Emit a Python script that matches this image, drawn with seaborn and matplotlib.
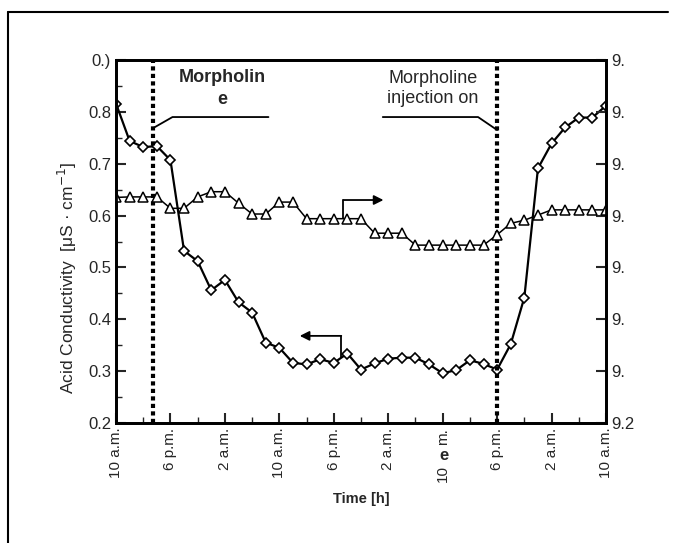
import numpy as np
import matplotlib
matplotlib.use("Agg")
import matplotlib.pyplot as plt
import seaborn as sns
from matplotlib.lines import Line2D

# time in hours after 10 a.m. on day 1
hours = list(range(0, 74, 2))
# acid conductivity (left axis), diamonds
cond = [0.816, 0.744, 0.732, 0.734, 0.707, 0.532, 0.512, 0.456, 0.476, 0.433,
        0.413, 0.355, 0.345, 0.316, 0.313, 0.323, 0.316, 0.334, 0.303, 0.315,
        0.324, 0.326, 0.326, 0.313, 0.296, 0.302, 0.321, 0.314, 0.303, 0.352,
        0.442, 0.691, 0.739, 0.770, 0.789, 0.789, 0.812]
# pH (right axis), triangles
ph = [9.635, 9.636, 9.636, 9.636, 9.614, 9.614, 9.636, 9.646, 9.646, 9.624,
      9.603, 9.603, 9.626, 9.626, 9.594, 9.594, 9.594, 9.594, 9.594, 9.566,
      9.566, 9.566, 9.543, 9.543, 9.543, 9.543, 9.543, 9.543, 9.563, 9.585,
      9.591, 9.601, 9.611, 9.611, 9.611, 9.611, 9.611]

xticks = list(range(0, 80, 8))
# the 7th label is damaged in the scan; it is drawn in pieces below
xlabels = ["10 a.m.", "6 p.m.", "2 a.m.", "10 a.m.", "6 p.m.", "2 a.m.",
           "", "6 p.m.", "2 a.m.", "10 a.m."]
left_ticks = [0.2, 0.3, 0.4, 0.5, 0.6, 0.7, 0.8, 0.9]
left_labels = ["0.2", "0.3", "0.4", "0.5", "0.6", "0.7", "0.8", "0.)"]
right_ticks = [9.2, 9.3, 9.4, 9.5, 9.6, 9.7, 9.8, 9.9]
right_labels = ["9.2", "9.", "9.", "9.", "9.", "9.", "9.", "9."]
events = [5.5, 56]

sns.set_style("ticks")
plt.rcParams["font.family"] = ["Liberation Sans", "DejaVu Sans"]

fig = plt.figure(figsize=(6.77, 5.43), dpi=100)
ax = fig.add_axes([116 / 677, 1 - 423 / 543, 490 / 677, 363 / 543])
ax2 = ax.twinx()

sns.lineplot(x=hours, y=cond, ax=ax, color="black", lw=1.6, marker="D",
             markersize=5.5, markerfacecolor="white", markeredgecolor="black",
             markeredgewidth=1.2)
sns.lineplot(x=hours, y=ph, ax=ax2, color="black", lw=1.1, marker="^",
             markersize=6.5, markerfacecolor="white", markeredgecolor="black",
             markeredgewidth=1.1)

ax.set_xlim(0, 72)
ax.set_ylim(0.2, 0.9)
ax2.set_ylim(9.2, 9.9)

for ev in events:
    ax.axvline(ev, color="black", lw=3, ls=(0, (1, 0.8)))

ax.set_xticks(xticks)
ax.set_xticklabels(xlabels, rotation=90, fontsize=11)
ax.set_xticks(list(range(4, 72, 8)), minor=True)
ax.set_yticks(left_ticks)
ax.set_yticklabels(left_labels, fontsize=12)
ax.set_yticks(list(np.arange(0.25, 0.9, 0.1)), minor=True)
ax2.set_yticks(right_ticks)
ax2.set_yticklabels(right_labels, fontsize=12)

ax.tick_params(axis="both", which="major", direction="in", length=7, width=1.5)
ax.tick_params(axis="both", which="minor", direction="in", length=4, width=1)
ax2.tick_params(axis="y", direction="in", length=7, width=1.5)
for a in (ax, ax2):
    for s in a.spines.values():
        s.set_linewidth(2)
        s.set_color("black")

ax.set_ylabel("Acid Conductivity  [μS · cm$^{-1}$]", fontsize=12.5)
ax.yaxis.set_label_coords(-0.075, 0.40)
ax.set_xlabel("Time [h]", fontsize=10.5, fontweight="bold", labelpad=10)
ax2.set_ylabel("")

# annotations
ax.text(15.6, 0.845, "Morpholin\ne", ha="center", va="center", fontsize=13,
        fontweight="bold", linespacing=1.35)
ax.plot([5.5, 8.3, 22.4], [0.769, 0.790, 0.790], color="black", lw=1.3)
ax.text(46.6, 0.845, "Morpholine\ninjection on", ha="center", va="center",
        fontsize=13, linespacing=1.25)
ax.plot([39.2, 53.2, 56], [0.790, 0.790, 0.765], color="black", lw=1.3)

# series arrows
ax.plot([33.1, 33.1], [0.327, 0.368], color="black", lw=1.3)
ax.annotate("", xy=(27.0, 0.368), xytext=(33.1, 0.368),
            arrowprops=dict(arrowstyle="-|>", color="black", lw=1.3,
                            mutation_scale=14, shrinkA=0, shrinkB=0))
ax.plot([33.4, 33.4], [0.595, 0.630], color="black", lw=1.3)
ax.annotate("", xy=(39.3, 0.630), xytext=(33.4, 0.630),
            arrowprops=dict(arrowstyle="-|>", color="black", lw=1.3,
                            mutation_scale=14, shrinkA=0, shrinkB=0))

# damaged tick label at 48 h: "10" ... bold "e" ... "m."
x48 = (116 + 48 / 72 * 490) / 677
fig.text(x48, 1 - 482 / 543, "10", rotation=90, ha="center", va="bottom",
         fontsize=11)
fig.text(x48, 1 - 428 / 543, "m.", rotation=90, ha="center", va="top",
         fontsize=11)
fig.text(x48 + 1 / 677, 1 - 456 / 543, "e", ha="center", va="center",
         fontsize=12, fontweight="bold")

# outer frame
fig.add_artist(Line2D([8 / 677, 8 / 677], [0, 1 - 12 / 543], color="black", lw=1.5))
fig.add_artist(Line2D([8 / 677, 668 / 677], [1 - 12 / 543, 1 - 12 / 543],
                      color="black", lw=1.5))

fig.savefig("out.png", dpi=100)
